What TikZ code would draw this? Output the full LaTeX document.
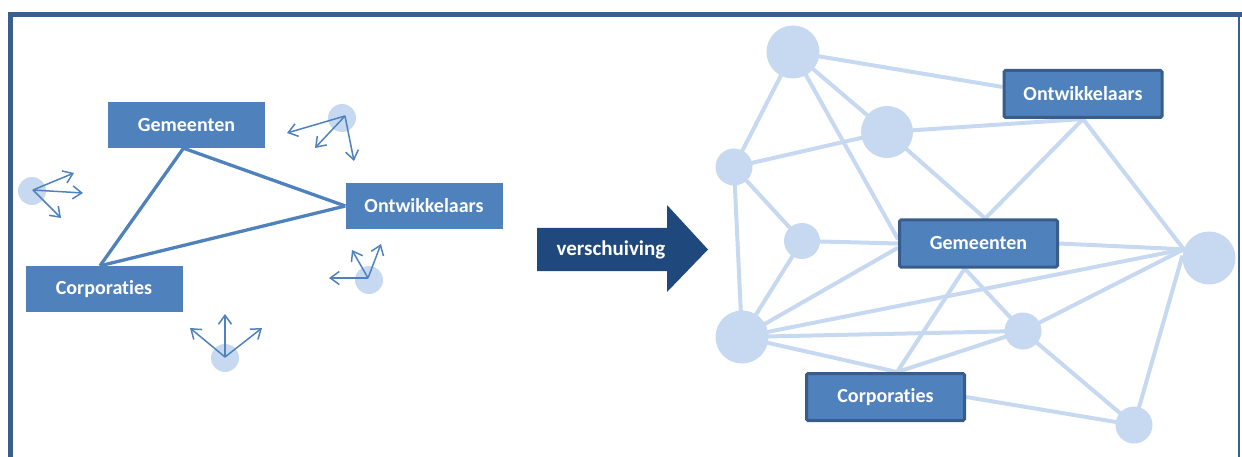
\documentclass[tikz,border=0pt]{standalone}
\usepackage{fontspec}
\setmainfont{Carlito}[Ligatures=NoCommon]
\usetikzlibrary{arrows.meta,backgrounds,calc}
\definecolor{boxblue}{RGB}{79,129,189}
\definecolor{boxedge}{RGB}{56,93,138}
\definecolor{pale}{RGB}{198,217,240}
\definecolor{navy}{RGB}{31,73,125}
\definecolor{framecol}{RGB}{58,95,140}
% keeps "t" and "i" apart so no ligature forms
\newcommand{\corpname}{Corporat\kern0pt ies}

\begin{document}
\begin{tikzpicture}[x=1pt,y=-1pt,
  plainbox/.style={fill=boxblue, text=white, font=\bfseries\fontsize{20}{24}\selectfont,
    minimum width=157pt, minimum height=46pt, inner sep=0pt},
  netbox/.style={plainbox, draw=boxedge, line width=3pt, rounded corners=1.5pt,
    minimum width=158pt, minimum height=47pt},
  blob/.style={circle, fill=pale, inner sep=0pt, minimum size=#1},
  tie/.style={draw=boxblue, line width=3.3pt},
  link/.style={draw=pale, line width=4pt},
  move/.style={draw=boxblue, line width=1.5pt, -{Straight Barb[length=9pt,width=13pt]}},
]
\useasboundingbox (0,0) rectangle (1242,457);

% frame
\draw[framecol, line width=5pt] (10,457) -- (10,14.5) -- (1242,14.5);
\draw[framecol, line width=1.2pt] (1239,17) -- (1239,457);

% ---------- left: the old triangle ----------
\node[plainbox] (lgem) at (186.5,125) {Gemeenten};
\node[plainbox] (lont) at (424,206) {Ontwikkelaars};
\node[plainbox] (lcor) at (104,289) {\corpname};
\begin{scope}[on background layer]
  \draw[tie] ($(lgem.south)+(-3,0)$) -- (lont.west);
  \draw[tie] ($(lgem.south)+(-3,0)$) -- ($(lcor.north)+(-4,0)$);
  \draw[tie] ($(lcor.north)+(-4,0)$) -- (lont.west);
\end{scope}

% loose actors moving about
\node[blob=28pt] (p1) at (342,118) {};
\node[blob=28pt] (p2) at (32,191) {};
\node[blob=28pt] (p3) at (369,280) {};
\node[blob=28pt] (p4) at (225,358) {};
\coordinate (o1) at (345,116);
\coordinate (o2) at (33,190);
\coordinate (o3) at (368,278);
\coordinate (o4) at (225,357);
\coordinate (t1a) at (287,133); \coordinate (t1b) at (315,148); \coordinate (t1c) at (354,161);
\coordinate (t2a) at (74,173);  \coordinate (t2b) at (83,193);  \coordinate (t2c) at (61,218);
\coordinate (t3a) at (329,278); \coordinate (t3b) at (352,250); \coordinate (t3c) at (381,244);
\coordinate (t4a) at (190,328); \coordinate (t4b) at (225,314); \coordinate (t4c) at (262,328);
\foreach \o/\t in {o1/t1a,o1/t1b,o1/t1c,o2/t2a,o2/t2b,o2/t2c,o3/t3a,o3/t3b,o3/t3c,o4/t4a,o4/t4b,o4/t4c}
  \draw[move] (\o) -- (\t);

% ---------- middle: shift arrow ----------
\fill[navy] (537,228) -- (667,228) -- (667,205) -- (708,249.5) -- (667,292)
  -- (667,271) -- (537,271) -- cycle;
\node[text=white, font=\bfseries\fontsize{21}{24}\selectfont, inner sep=0pt] (shift) at (611,250) {verschuiving};

% ---------- right: the network ----------
\node[blob=53pt] (A) at (793,52) {};
\node[blob=52pt] (B) at (887,132) {};
\node[blob=37pt] (C) at (734,167) {};
\node[blob=36pt] (D) at (802,241) {};
\node[blob=53pt] (E) at (742,337) {};
\node[blob=53pt] (F) at (1209,258) {};
\node[blob=37pt] (G) at (1023,331) {};
\node[blob=37pt] (H) at (1134,425) {};
\node[netbox] (ont) at (1083,94) {Ontwikkelaars};
\node[netbox] (gem) at (978.5,243.5) {Gemeenten};
\node[netbox] (cor) at (885.5,397) {\corpname};

\begin{scope}[on background layer]
  \draw[link] (A.center) -- (ont.175);
  \draw[link] (A.center) -- (B.center);
  \draw[link] (A.center) -- (C.center);
  \draw[link] (A.center) -- (gem.177);
  \draw[link] (B.center) -- (ont.south);
  \draw[link] (B.center) -- (gem.75);
  \draw[link] (B.center) -- (C.center);
  \draw[link] (ont.south) -- (gem.75);
  \draw[link] (ont.south) -- (F.161);
  \draw[link] (C.center) -- (D.center);
  \draw[link] (C.center) -- (E.center);
  \draw[link] (D.center) -- (gem.west);
  \draw[link] (D.center) -- (E.center);
  \draw[link] (E.center) -- (gem.183);
  \draw[link] (E.center) -- (F.161);
  \draw[link] (E.center) -- (G.center);
  \draw[link] (E.center) -- (cor.65);
  \draw[link] (gem.241) -- (cor.65);
  \draw[link] (gem.241) -- (G.center);
  \draw[link] (gem.east) -- (F.161);
  \draw[link] (cor.65) -- (G.center);
  \draw[link] (cor.east) -- (H.center);
  \draw[link] (G.center) -- (F.161);
  \draw[link] (G.center) -- (H.center);
  \draw[link] (H.center) -- (F.175);
\end{scope}
\end{tikzpicture}
\end{document}
